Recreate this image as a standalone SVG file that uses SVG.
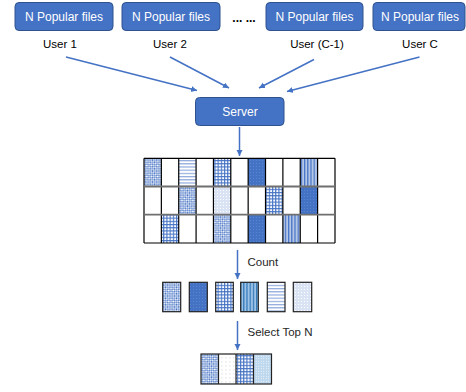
<svg xmlns="http://www.w3.org/2000/svg" width="466" height="392" viewBox="0 0 466 392">
<style>
.box{fill:#4472C4;stroke:#2F528F;stroke-width:1}
.bt{font-family:"Liberation Sans",Arial,sans-serif;font-size:12px;fill:#ffffff;text-anchor:middle}
.ut{font-family:"Liberation Sans",Arial,sans-serif;font-size:11.5px;fill:#000000;text-anchor:middle}
.lt{font-family:"Liberation Sans",Arial,sans-serif;font-size:11.5px;fill:#262626}
.conn{stroke:#4472C4;stroke-width:1.5;fill:none;marker-end:url(#ah)}
.cell{stroke:#000;stroke-width:1.2}
.pc{stroke:#222;stroke-width:1.2}
</style>
<defs>
<marker id="ah" markerWidth="8" markerHeight="8" refX="6" refY="3" orient="auto" markerUnits="userSpaceOnUse">
<path d="M0,0 L6,3 L0,6 z" fill="#4472C4"/>
</marker>
<pattern id="diag" width="2.6" height="2.6" patternUnits="userSpaceOnUse" patternTransform="rotate(45)">
<rect width="2.6" height="2.6" fill="#ffffff"/>
<rect width="1.3" height="1.3" fill="#4472C4"/>
<rect x="1.3" y="1.3" width="1.3" height="1.3" fill="#4472C4"/>
</pattern>
<pattern id="hline" width="4" height="3.2" patternUnits="userSpaceOnUse">
<rect width="4" height="3.2" fill="#ffffff"/>
<rect y="0" width="4" height="1.2" fill="#8FAADC"/>
</pattern>
<pattern id="plaid" width="3.2" height="3.2" patternUnits="userSpaceOnUse">
<rect width="3.2" height="3.2" fill="#ffffff"/>
<rect width="3.2" height="1.1" fill="#4472C4"/>
<rect width="1.1" height="3.2" fill="#4472C4"/>
</pattern>
<pattern id="solid" width="3" height="3" patternUnits="userSpaceOnUse">
<rect width="3" height="3" fill="#4472C4"/>
<rect x="1" y="1" width="0.8" height="0.8" fill="#6A8FD4"/>
</pattern>
<pattern id="vline" width="3.2" height="4" patternUnits="userSpaceOnUse">
<rect width="3.2" height="4" fill="#B4C7E7"/>
<rect width="1.2" height="4" fill="#4472C4"/>
</pattern>
<pattern id="vline2" width="3.2" height="4" patternUnits="userSpaceOnUse">
<rect width="3.2" height="4" fill="#9DC3E6"/>
<rect width="1.2" height="4" fill="#2E75B6"/>
</pattern>
<pattern id="light" width="3" height="3" patternUnits="userSpaceOnUse">
<rect width="3" height="3" fill="#DAE3F3"/>
<rect x="1" y="1" width="1" height="1" fill="#ffffff"/>
</pattern>
<pattern id="wdot" width="4" height="4" patternUnits="userSpaceOnUse">
<rect width="4" height="4" fill="#ffffff"/>
<rect x="1.5" y="1.5" width="0.8" height="0.8" fill="#B0B8C8"/>
</pattern>
<pattern id="bdot" width="2.5" height="2.5" patternUnits="userSpaceOnUse">
<rect width="2.5" height="2.5" fill="#BDD7EE"/>
<rect x="0.8" y="0.8" width="0.9" height="0.9" fill="#ffffff"/>
</pattern>
</defs>
<rect width="466" height="392" fill="#ffffff"/>

<g id="user1">
<rect class="box" x="15" y="2.5" width="98" height="28" rx="4"/>
<text class="bt" x="64" y="21">N Popular files</text>
<text class="ut" x="60" y="48">User 1</text>
</g>
<g id="user2">
<rect class="box" x="122" y="2.5" width="98" height="28" rx="4"/>
<text class="bt" x="171" y="21">N Popular files</text>
<text class="ut" x="170" y="48">User 2</text>
</g>
<g id="dots">
<text x="244" y="22" style="font-family:'Liberation Sans',Arial,sans-serif;font-size:12px;font-weight:bold;fill:#000" text-anchor="middle">... ...</text>
</g>
<g id="userC1">
<rect class="box" x="266" y="2.5" width="97" height="28" rx="4"/>
<text class="bt" x="314.5" y="21">N Popular files</text>
<text class="ut" x="317" y="48">User (C-1)</text>
</g>
<g id="userC">
<rect class="box" x="373" y="2.5" width="92" height="28" rx="4"/>
<text class="bt" x="420" y="21">N Popular files</text>
<text class="ut" x="420" y="48">User C</text>
</g>
<g id="server">
<rect class="box" x="195.5" y="97.5" width="88.5" height="28" rx="4"/>
<text class="bt" x="240" y="116">Server</text>
</g>

<g id="connectors">
<line class="conn" x1="66" y1="57" x2="197" y2="90.5"/>
<line class="conn" x1="170" y1="57" x2="229" y2="88"/>
<line class="conn" x1="314" y1="59.5" x2="259" y2="88"/>
<line class="conn" x1="419.5" y1="57" x2="287" y2="91.5"/>
<line class="conn" x1="239.5" y1="127" x2="239.5" y2="156"/>
<line class="conn" x1="237.5" y1="250" x2="237.5" y2="279"/>
<line class="conn" x1="237.5" y1="321" x2="237.5" y2="350"/>
</g>

<g id="grid">
<rect x="144" y="158.3" width="191" height="84.7" fill="#ffffff"/>
<rect x="144" y="158.3" width="17.36" height="28.2" fill="url(#diag)"/>
<rect x="178.72" y="158.3" width="17.36" height="28.2" fill="url(#hline)"/>
<rect x="213.44" y="158.3" width="17.36" height="28.2" fill="url(#plaid)"/>
<rect x="248.16" y="158.3" width="17.36" height="28.2" fill="url(#solid)"/>
<rect x="300.24" y="158.3" width="17.36" height="28.2" fill="url(#vline)"/>
<rect x="178.72" y="186.5" width="17.36" height="28.2" fill="url(#diag)"/>
<rect x="213.44" y="186.5" width="17.36" height="28.2" fill="url(#light)"/>
<rect x="265.52" y="186.5" width="17.36" height="28.2" fill="url(#plaid)"/>
<rect x="300.24" y="186.5" width="17.36" height="28.2" fill="url(#solid)"/>
<rect x="161.36" y="214.7" width="17.36" height="28.3" fill="url(#plaid)"/>
<rect x="213.44" y="214.7" width="17.36" height="28.3" fill="url(#diag)"/>
<rect x="248.16" y="214.7" width="17.36" height="28.3" fill="url(#solid)"/>
<rect x="282.88" y="214.7" width="17.36" height="28.3" fill="url(#vline)"/>
<g stroke="#000" stroke-width="1.2">
<line x1="144" y1="158.3" x2="335" y2="158.3"/>
<line x1="144" y1="243" x2="335" y2="243"/>
<line x1="144" y1="158.3" x2="144" y2="243"/>
<line x1="161.36" y1="158.3" x2="161.36" y2="243"/>
<line x1="178.72" y1="158.3" x2="178.72" y2="243"/>
<line x1="196.08" y1="158.3" x2="196.08" y2="243"/>
<line x1="213.44" y1="158.3" x2="213.44" y2="243"/>
<line x1="230.8" y1="158.3" x2="230.8" y2="243"/>
<line x1="248.16" y1="158.3" x2="248.16" y2="243"/>
<line x1="265.52" y1="158.3" x2="265.52" y2="243"/>
<line x1="282.88" y1="158.3" x2="282.88" y2="243"/>
<line x1="300.24" y1="158.3" x2="300.24" y2="243"/>
<line x1="317.6" y1="158.3" x2="317.6" y2="243"/>
<line x1="335" y1="158.3" x2="335" y2="243"/>
</g>
<g stroke="#6F6F6F" stroke-width="1.8">
<line x1="144" y1="186.5" x2="335" y2="186.5"/>
<line x1="144" y1="214.6" x2="335" y2="214.6"/>
</g>
</g>

<g id="count-label"><text class="lt" x="247.5" y="266">Count</text></g>
<g id="counted">
<rect class="pc" x="162.7" y="282.3" width="18" height="29.4" fill="url(#diag)"/>
<rect class="pc" x="189.3" y="282.3" width="18" height="29.4" fill="url(#solid)"/>
<rect class="pc" x="215.7" y="282.3" width="17.6" height="29.4" fill="url(#plaid)"/>
<rect class="pc" x="240.7" y="282.3" width="17.6" height="29.4" fill="url(#vline2)"/>
<rect class="pc" x="267.3" y="282.3" width="17.7" height="29.4" fill="url(#hline)"/>
<rect class="pc" x="293.3" y="282.3" width="18.4" height="29.4" fill="url(#light)"/>
</g>

<g id="select-label"><text class="lt" x="247.5" y="336">Select Top N</text></g>
<g id="topn">
<rect x="201" y="354" width="17.5" height="30" fill="url(#diag)"/>
<rect x="218.5" y="354" width="17.5" height="30" fill="url(#wdot)"/>
<rect x="236" y="354" width="17.5" height="30" fill="url(#plaid)"/>
<rect x="253.5" y="354" width="18" height="30" fill="url(#bdot)"/>
<g stroke="#222" stroke-width="1.2" fill="none">
<rect x="201" y="354" width="70.5" height="30"/>
<line x1="218.5" y1="354" x2="218.5" y2="384"/>
<line x1="236" y1="354" x2="236" y2="384"/>
<line x1="253.5" y1="354" x2="253.5" y2="384"/>
</g>
</g>
</svg>
